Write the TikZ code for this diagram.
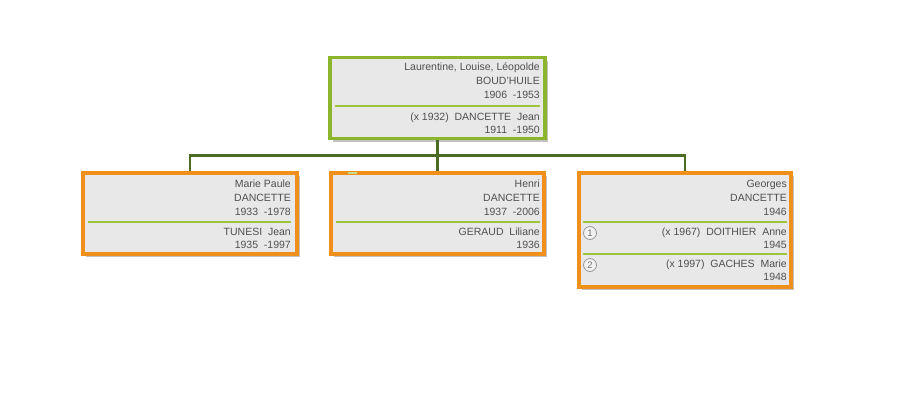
\documentclass[tikz,border=0pt]{standalone}
\usepackage{fontspec}
\setmainfont{Liberation Sans}
\usetikzlibrary{shadows}
\definecolor{boxfill}{HTML}{E8E8E8}
\definecolor{topgreen}{HTML}{8CB52B}
\definecolor{kidorange}{HTML}{F0901A}
\definecolor{divgreen}{HTML}{9EC43C}
\definecolor{connline}{HTML}{4B6B22}
\definecolor{txtgray}{HTML}{505050}
\tikzset{
  box/.style={rectangle, fill=boxfill, line width=3.2pt, inner sep=0pt,
    drop shadow={shadow xshift=3pt, shadow yshift=-3pt, opacity=0.4, fill=black!60}},
  topbox/.style={box, draw=topgreen},
  kidbox/.style={box, draw=kidorange},
  txt/.style={anchor=east, inner sep=0pt, font=\fontsize{10.5}{12}\selectfont,
    text=txtgray, text height=7.5pt, text depth=2pt},
  divider/.style={draw=divgreen, line width=1.1pt},
  conn/.style={draw=connline, line width=2.5pt},
  numcirc/.style={circle, draw=black!40, fill=white!95!black, line width=0.8pt,
    minimum size=13pt, inner sep=0pt, text=black!55, font=\fontsize{9.5}{10}\selectfont}
}
\begin{document}
\begin{tikzpicture}[x=1pt,y=-1pt]
\useasboundingbox (0,0) rectangle (908,400);
\fill[white] (0,0) rectangle (908,400);

% boxes
\node[topbox, minimum width=215pt, minimum height=81pt] (top) at (437.5,98) {};
\node[kidbox, minimum width=214pt, minimum height=81pt] (k1) at (190,213.5) {};
\node[kidbox, minimum width=213pt, minimum height=81pt] (k2) at (437.5,213.5) {};
\node[kidbox, minimum width=212pt, minimum height=114pt] (k3) at (685,230) {};

% small green mark on middle box
\fill[divgreen!60] (348,171.5) rectangle (357,173.5);

% connectors
\coordinate (bus) at (437.5,155.5);
\draw[conn] (top.south) -- (bus);
\draw[conn] (bus) -| (k1.north);
\draw[conn] (bus) -| (k3.north);
\draw[conn] (bus) -- (k2.north);

% top box text
\node[txt] (t1) at (540,68) {Laurentine, Louise, Léopolde};
\node[txt] (t2) at (540,82) {BOUD'HUILE};
\node[txt] (t3) at (540,96) {1906\ \ -1953};
\draw[divider] (335,106) -- (540,106);
\node[txt] (t4) at (540,118) {(x 1932)\ \ DANCETTE\ \ Jean};
\node[txt] (t5) at (540,131) {1911\ \ -1950};

% left child
\node[txt] (a1) at (291,185) {Marie Paule};
\node[txt] (a2) at (291,199) {DANCETTE};
\node[txt] (a3) at (291,213) {1933\ \ -1978};
\draw[divider] (88,222) -- (291,222);
\node[txt] (a4) at (291,233) {TUNESI\ \ Jean};
\node[txt] (a5) at (291,246) {1935\ \ -1997};

% middle child
\node[txt] (b1) at (540,185) {Henri};
\node[txt] (b2) at (540,199) {DANCETTE};
\node[txt] (b3) at (540,213) {1937\ \ -2006};
\draw[divider] (336,222) -- (540,222);
\node[txt] (b4) at (540,233) {GERAUD\ \ Liliane};
\node[txt] (b5) at (540,246) {1936};

% right child
\node[txt] (c1) at (787,185) {Georges};
\node[txt] (c2) at (787,199) {DANCETTE};
\node[txt] (c3) at (787,213) {1946};
\draw[divider] (583,222) -- (787,222);
\node[numcirc] (n1) at (590,233) {1};
\node[txt] (c4) at (787,233) {(x 1967)\ \ DOITHIER\ \ Anne};
\node[txt] (c5) at (787,246) {1945};
\draw[divider] (583,254) -- (787,254);
\node[numcirc] (n2) at (590,265) {2};
\node[txt] (c6) at (787,265) {(x 1997)\ \ GACHES\ \ Marie};
\node[txt] (c7) at (787,278) {1948};
\end{tikzpicture}
\end{document}
